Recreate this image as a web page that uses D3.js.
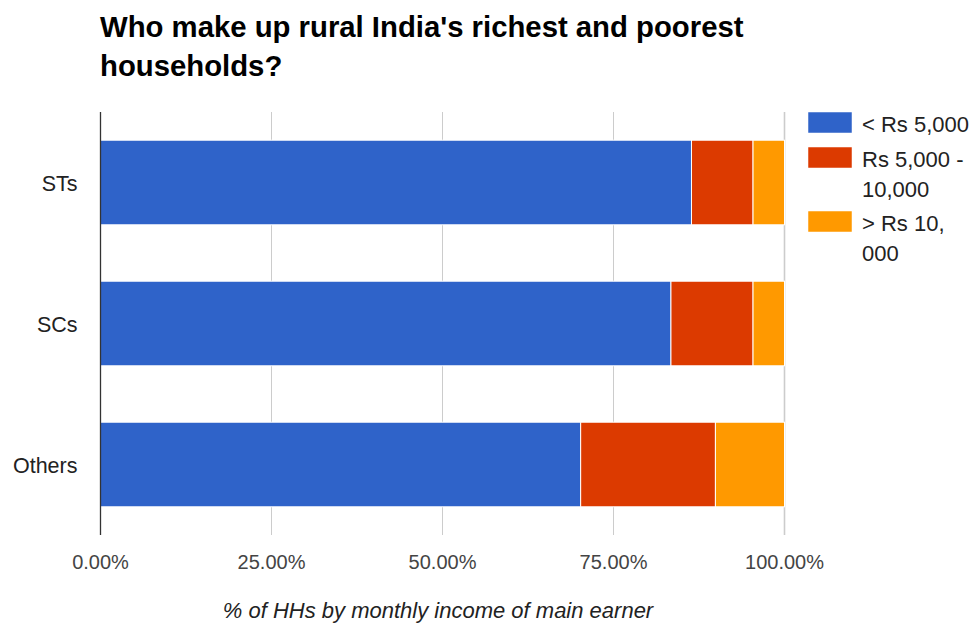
<!DOCTYPE html>
<html>
<head>
<meta charset="utf-8">
<script src="https://cdn.jsdelivr.net/npm/d3@7"></script>
<style>
  html, body { margin: 0; padding: 0; background: #fff; }
  svg { display: block; font-family: "Liberation Sans", Arial, Helvetica, sans-serif; }
</style>
</head>
<body>
<svg id="chart" width="972" height="631"></svg>
<script>
// ---- Data ----
const categories = ["STs", "SCs", "Others"];
const seriesNames = ["< Rs 5,000", "Rs 5,000 - 10,000", "> Rs 10, 000"];
const legendLines = [["< Rs 5,000"], ["Rs 5,000 -", "10,000"], ["> Rs 10,", "000"]];
const lowIncome = [0.864, 0.834, 0.702];   // < Rs 5,000
const midIncome = [0.090, 0.120, 0.197];   // Rs 5,000 - 10,000
const highIncome = [0.046, 0.046, 0.101];  // > Rs 10,000
const xTicks = [0, 0.25, 0.5, 0.75, 1];
const colors = ["#2f63c9", "#dc3a00", "#ff9900"];

const titleLines = ["Who make up rural India's richest and poorest", "households?"];
const xAxisTitle = "% of HHs by monthly income of main earner";

// ---- Layout ----
const svg = d3.select("#chart");
const plot = { left: 100.5, right: 784.5, top: 112, bottom: 535 };

const x = d3.scaleLinear().domain([0, 1]).range([plot.left, plot.right]);
const y = d3.scaleBand().domain(categories).range([plot.top, plot.bottom])
  .paddingInner(0.4).paddingOuter(0.2);

// stack
const rows = categories.map((c, i) => ({ cat: c, s0: lowIncome[i], s1: midIncome[i], s2: highIncome[i] }));
const stack = d3.stack().keys(["s0", "s1", "s2"]);
const layers = stack(rows);

// Title
svg.append("g").selectAll("text").data(titleLines).join("text")
  .attr("x", 100)
  .attr("y", (d, i) => 37 + i * 39)
  .attr("font-size", 29.3)
  .attr("font-weight", "bold")
  .attr("fill", "#000")
  .text(d => d);

// Gridlines
svg.append("g").selectAll("line").data(xTicks.filter(t => t > 0)).join("line")
  .attr("x1", d => x(d)).attr("x2", d => x(d))
  .attr("y1", plot.top).attr("y2", plot.bottom)
  .attr("stroke", "#cccccc").attr("stroke-width", d => d === 1 ? 1.6 : 1);

// Bars
svg.append("g").selectAll("g").data(layers).join("g")
  .attr("fill", (d, i) => colors[i])
  .selectAll("rect").data(d => d).join("rect")
  .attr("x", d => x(d[0]))
  .attr("width", d => x(d[1]) - x(d[0]))
  .attr("y", d => y(d.data.cat))
  .attr("height", y.bandwidth())
  .attr("stroke", "#ffffff")
  .attr("stroke-width", 1);

// Zero baseline
svg.append("line")
  .attr("x1", x(0)).attr("x2", x(0))
  .attr("y1", plot.top).attr("y2", plot.bottom)
  .attr("stroke", "#333333").attr("stroke-width", 1.3);

// Category labels
svg.append("g").selectAll("text").data(categories).join("text")
  .attr("x", 77.5)
  .attr("y", d => y(d) + y.bandwidth() / 2)
  .attr("dy", "0.38em")
  .attr("text-anchor", "end")
  .attr("font-size", 21.5)
  .attr("fill", "#222")
  .text(d => d);

// Tick labels
const fmt = d3.format(".2%");
svg.append("g").selectAll("text").data(xTicks).join("text")
  .attr("x", d => x(d))
  .attr("y", 569)
  .attr("text-anchor", "middle")
  .attr("font-size", 20)
  .attr("fill", "#444")
  .text(d => fmt(d));

// X axis title
svg.append("text")
  .attr("x", 438)
  .attr("y", 618)
  .attr("text-anchor", "middle")
  .attr("font-size", 22)
  .attr("font-style", "italic")
  .attr("fill", "#222")
  .text(xAxisTitle);

// Legend
const legendTops = [112, 147, 211];
const lg = svg.append("g").selectAll("g").data(seriesNames).join("g")
  .attr("transform", (d, i) => `translate(808, ${legendTops[i]})`);
lg.append("rect")
  .attr("width", 44).attr("height", 21)
  .attr("fill", (d, i) => colors[i])
  .attr("stroke", "#fff").attr("stroke-width", 0.5);
lg.append("text")
  .attr("font-size", 22)
  .attr("fill", "#222")
  .selectAll("tspan").data((d, i) => legendLines[i]).join("tspan")
  .attr("x", 54)
  .attr("y", (d, j) => 20 + j * 29.5)
  .text(d => d);
</script>
</body>
</html>
